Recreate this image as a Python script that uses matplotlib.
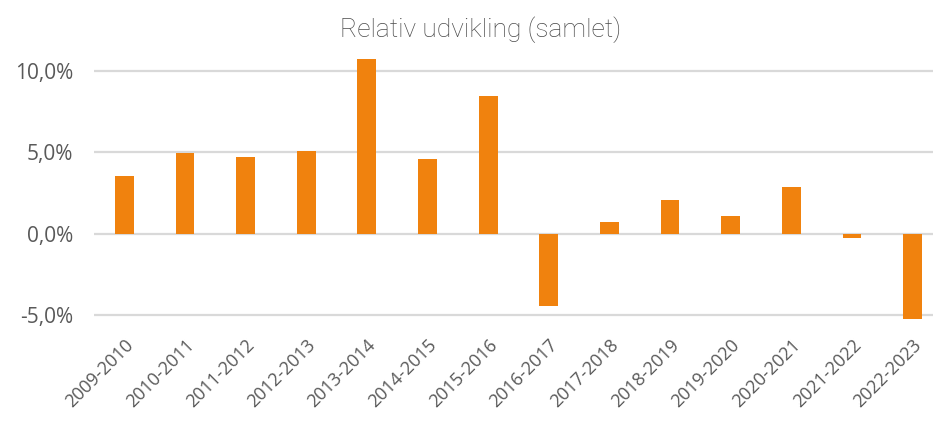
import matplotlib.pyplot as plt
from matplotlib.ticker import FuncFormatter

periods = ['2009-2010', '2010-2011', '2011-2012', '2012-2013', '2013-2014',
           '2014-2015', '2015-2016', '2016-2017', '2017-2018', '2018-2019',
           '2019-2020', '2020-2021', '2021-2022', '2022-2023']
change_pct = [3.54, 4.98, 4.75, 5.08, 10.76, 4.59, 8.47, -4.4, 0.75, 2.1, 1.1, 2.9, -0.27, -5.2]

fig = plt.figure(figsize=(9.33, 4.21), dpi=100)
# plot area runs a little past the right edge, as in the source
ax = fig.add_axes((0.1007, 0.212, 0.91, 0.697))

x = range(len(periods))
ax.bar(x, change_pct, width=0.31, color='#F0820E', zorder=3)

ax.set_xlim(-0.5, len(periods) - 0.5)
ax.set_ylim(-6, 12)
ax.set_yticks([-5, 0, 5, 10])
ax.yaxis.set_major_formatter(FuncFormatter(lambda v, p: ('%.1f%%' % v).replace('.', ',')))
ax.grid(axis='y', color='#D9D9D9', linewidth=1.6, zorder=0)

for s in ax.spines.values():
    s.set_visible(False)

ax.set_xticks(list(x))
ax.set_xticklabels(periods, rotation=45, ha='right', rotation_mode='anchor',
                   fontsize=13, color='#595959', family='Open Sans')
ax.tick_params(axis='both', length=0)
ax.tick_params(axis='x', pad=3)
ax.tick_params(axis='y', pad=15)
for lbl in ax.get_yticklabels():
    lbl.set_fontsize(15)
    lbl.set_color('#595959')
    lbl.set_family('Open Sans')

fig.text(0.515, 0.93, 'Relativ udvikling (samlet)', ha='center', va='center',
         fontsize=19, color='#4a4a4a', family='Roboto', fontweight='light')

fig.savefig('out.png', dpi=100, facecolor='white')
